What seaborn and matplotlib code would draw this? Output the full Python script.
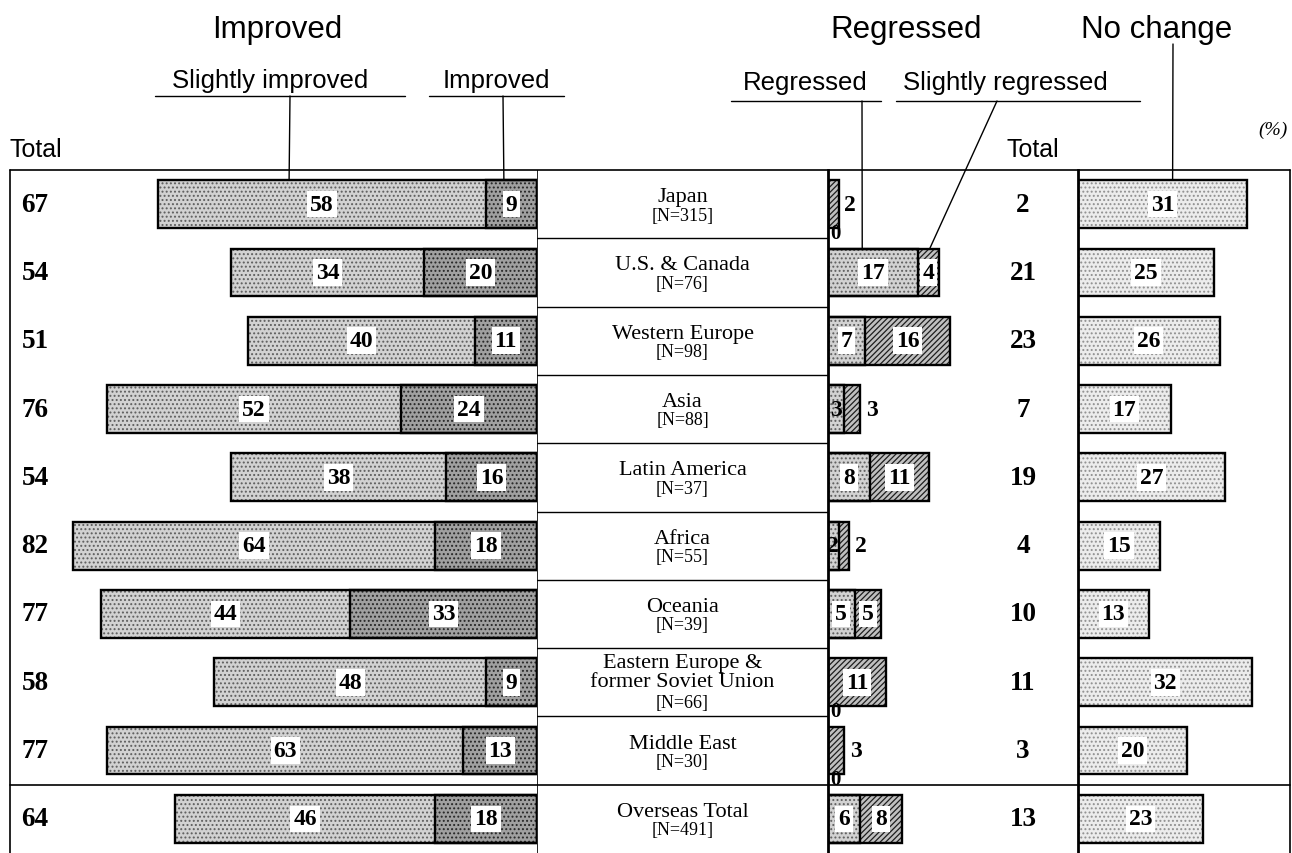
import matplotlib
matplotlib.use("Agg")
import matplotlib.pyplot as plt
import matplotlib.transforms as mtransforms
from matplotlib.lines import Line2D
import seaborn as sns
import pandas as pd

# ---- data (percent of respondents) ----
regions = ["Japan", "U.S. & Canada", "Western Europe", "Asia", "Latin America",
           "Africa", "Oceania", "Eastern Europe &\nformer Soviet Union",
           "Middle East", "Overseas Total"]
sample_sizes = [315, 76, 98, 88, 37, 55, 39, 66, 30, 491]
slightly_improved = [58, 34, 40, 52, 38, 64, 44, 48, 63, 46]
improved = [9, 20, 11, 24, 16, 18, 33, 9, 13, 18]
improved_total = [67, 54, 51, 76, 54, 82, 77, 58, 77, 64]
regressed = [0, 17, 7, 3, 8, 2, 5, 0, 0, 6]
slightly_regressed = [2, 4, 16, 3, 11, 2, 5, 11, 3, 8]
regressed_total = [2, 21, 23, 7, 19, 4, 10, 11, 3, 13]
no_change = [31, 25, 26, 17, 27, 15, 13, 32, 20, 23]

df = pd.DataFrame({
    "region": regions,
    "improved": improved,
    "improved_stack": [a + b for a, b in zip(improved, slightly_improved)],
    "regressed": regressed,
    "regressed_stack": [a + b for a, b in zip(regressed, slightly_regressed)],
    "no_change": no_change,
})

sns.set_theme(style="white")
plt.rcParams["font.family"] = ["Liberation Serif", "DejaVu Serif"]
plt.rcParams["text.color"] = "black"
plt.rcParams["hatch.linewidth"] = 0.9

SANS = "Liberation Sans"
W, H = 1292, 854
TOP, BOTTOM = 171, 854
fig = plt.figure(figsize=(W / 100, H / 100), dpi=100)


def panel(x0, x1):
    return fig.add_axes([x0 / W, 1 - BOTTOM / H, (x1 - x0) / W, (BOTTOM - TOP) / H])


def fx(px):
    return px / W


def fy(py):
    return 1 - py / H


ax_imp = panel(10, 537)
ax_mid = panel(537, 828)
ax_reg = panel(828, 1078)
ax_nc = panel(1078, 1290)

BAR_W = 0.7
LIGHT = dict(face="#d2d2d2", dots="#5e5e5e", hatch="....")
DARK = dict(face="#a0a0a0", dots="#262626", hatch="....")
DIAG = dict(face="#c0c0c0", dots="#1e1e1e", hatch="//////")
PALE = dict(face="#ececec", dots="#909090", hatch="....")


def textured(ax, col, style):
    sns.barplot(data=df, x=col, y="region", order=regions, orient="h", ax=ax,
                color=style["face"], saturation=1, width=BAR_W, errorbar=None,
                hatch=style["hatch"], edgecolor=style["dots"], linewidth=0)


def outline(ax, col):
    sns.barplot(data=df, x=col, y="region", order=regions, orient="h", ax=ax,
                fill=False, color="black", width=BAR_W, errorbar=None,
                linewidth=1.7)


# improved (left, growing leftwards from the centre column)
textured(ax_imp, "improved_stack", LIGHT)
textured(ax_imp, "improved", DARK)
outline(ax_imp, "improved_stack")
outline(ax_imp, "improved")

# regressed
textured(ax_reg, "regressed_stack", DIAG)
textured(ax_reg, "regressed", LIGHT)
outline(ax_reg, "regressed_stack")
outline(ax_reg, "regressed")

# no change
textured(ax_nc, "no_change", PALE)
outline(ax_nc, "no_change")

ax_imp.set_xlim(527 / 5.66, 0)
ax_reg.set_xlim(0, 250 / 5.3)
ax_nc.set_xlim(0, 212 / 5.45)

for ax in (ax_imp, ax_mid, ax_reg, ax_nc):
    ax.set_ylim(len(regions) - 0.5, -0.5)
    ax.set_xticks([])
    ax.set_yticks([])
    ax.set_xlabel("")
    ax.set_ylabel("")
    ax.patch.set_alpha(0)
    for s in ax.spines.values():
        s.set_visible(False)

for ax in (ax_reg, ax_nc):
    ax.spines["left"].set_visible(True)
    ax.spines["left"].set_color("black")
    ax.spines["left"].set_linewidth(2.0)

# ---- value labels ----
VAL = dict(fontsize=17, fontweight="bold", ha="center", va="center", color="black")
BOX = dict(boxstyle="square,pad=0.12", fc="white", ec="none")
TOT = dict(fontsize=19.5, fontweight="bold", va="center", color="black")

imp_blend = mtransforms.blended_transform_factory(ax_imp.transAxes, ax_imp.transData)
reg_blend = mtransforms.blended_transform_factory(ax_reg.transAxes, ax_reg.transData)

for i in range(len(regions)):
    ax_imp.text(improved[i] + slightly_improved[i] / 2, i, str(slightly_improved[i]),
                bbox=BOX, **VAL)
    ax_imp.text(improved[i] / 2, i, str(improved[i]), bbox=BOX, **VAL)
    ax_imp.text(0.022, i, str(improved_total[i]), transform=imp_blend, ha="left", **TOT)

    if regressed[i] > 0:
        ax_reg.text(regressed[i] / 2, i, str(regressed[i]),
                    bbox=BOX if regressed[i] >= 4 else None, **VAL)
    else:
        ax_reg.text(0.35, i + 0.42, "0", fontsize=15, fontweight="bold",
                    ha="left", va="center")
    stack = regressed[i] + slightly_regressed[i]
    if slightly_regressed[i] >= 4:
        ax_reg.text(regressed[i] + slightly_regressed[i] / 2, i,
                    str(slightly_regressed[i]), bbox=BOX, **VAL)
    else:
        ax_reg.text(stack + 1.1, i, str(slightly_regressed[i]),
                    **{**VAL, "ha": "left"})
    ax_reg.text(0.78, i, str(regressed_total[i]), transform=reg_blend, ha="center", **TOT)

    ax_nc.text(no_change[i] / 2, i, str(no_change[i]), bbox=BOX, **VAL)

# ---- centre column: region names ----
ax_mid.set_xlim(0, 1)
ax_mid.axvline(0, color="black", lw=1.2)
for b in range(1, len(regions) - 1):
    ax_mid.axhline(b - 0.5, color="black", lw=1.0)
for i, (name, n) in enumerate(zip(regions, sample_sizes)):
    if "\n" in name:
        ax_mid.text(0.5, i - 0.15, name, fontsize=16, ha="center", va="center",
                    linespacing=0.95)
        ax_mid.text(0.5, i + 0.29, f"[N={n}]", fontsize=13, ha="center", va="center")
    else:
        ax_mid.text(0.5, i - 0.11, name, fontsize=16, ha="center", va="center")
        ax_mid.text(0.5, i + 0.16, f"[N={n}]", fontsize=13, ha="center", va="center")

# ---- frame ----
def fig_line(x0, y0, x1, y1, lw=1.2):
    fig.add_artist(Line2D([fx(x0), fx(x1)], [fy(y0), fy(y1)], color="black", lw=lw,
                          transform=fig.transFigure))


fig_line(10, TOP, 1290, TOP)
fig_line(10, TOP, 10, BOTTOM)
fig_line(1290, TOP, 1290, BOTTOM)
row_h = (BOTTOM - TOP) / len(regions)
fig_line(10, TOP + 9 * row_h, 1290, TOP + 9 * row_h)

# ---- headings ----
HEAD = dict(family=SANS, fontsize=22.5, ha="center", va="center", color="black")
SUB = dict(family=SANS, fontsize=18.5, ha="center", va="center", color="black")
fig.text(fx(277), fy(30), "Improved", **HEAD)
fig.text(fx(906), fy(30), "Regressed", **HEAD)
fig.text(fx(1157), fy(30), "No change", **HEAD)
fig.text(fx(270), fy(81), "Slightly improved", **SUB)
fig.text(fx(496), fy(81), "Improved", **SUB)
fig.text(fx(805), fy(83), "Regressed", **SUB)
fig.text(fx(1005), fy(83), "Slightly regressed", **SUB)
fig.text(fx(10), fy(150), "Total", family=SANS, fontsize=18, ha="left", va="center")
fig.text(fx(1033), fy(150), "Total", family=SANS, fontsize=18, ha="center", va="center")
fig.text(fx(1288), fy(130), "(%)", fontsize=14, style="italic", ha="right", va="center")

# underlines
fig_line(155, 97, 405, 97, lw=1.0)
fig_line(429, 97, 564, 97, lw=1.0)
fig_line(731, 102, 881, 102, lw=1.0)
fig_line(896, 102, 1140, 102, lw=1.0)

# leader lines from the headings to the bars they describe
LEAD = dict(arrowstyle="-", color="black", lw=1.0, shrinkA=0, shrinkB=0)
top0 = 0 - BAR_W / 2
top1 = 1 - BAR_W / 2
ax_imp.annotate("", xy=(improved[0] + slightly_improved[0] * 0.6, top0), xycoords="data",
                xytext=(fx(290), fy(97)), textcoords="figure fraction", arrowprops=LEAD)
ax_imp.annotate("", xy=(improved[0] * 0.65, top0), xycoords="data",
                xytext=(fx(503), fy(97)), textcoords="figure fraction", arrowprops=LEAD)
ax_reg.annotate("", xy=(regressed[1] * 0.38, top1), xycoords="data",
                xytext=(fx(862), fy(102)), textcoords="figure fraction", arrowprops=LEAD)
ax_reg.annotate("", xy=(regressed[1] + slightly_regressed[1] * 0.55, top1), xycoords="data",
                xytext=(fx(997), fy(102)), textcoords="figure fraction", arrowprops=LEAD)
ax_nc.annotate("", xy=(no_change[0] * 0.56, top0), xycoords="data",
               xytext=(fx(1173), fy(45)), textcoords="figure fraction", arrowprops=LEAD)

fig.savefig("out.png", dpi=100, facecolor="white")
